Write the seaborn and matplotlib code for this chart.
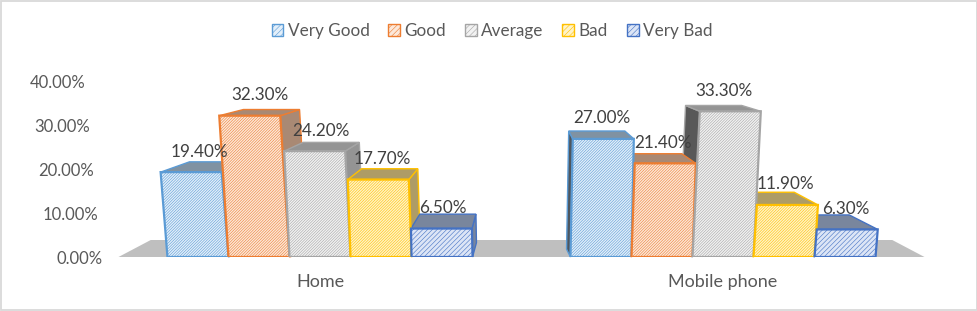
import numpy as np
import pandas as pd
import matplotlib
matplotlib.use("Agg")
import matplotlib.pyplot as plt
from matplotlib.patches import Polygon, Rectangle
from matplotlib.transforms import Affine2D
from matplotlib.colors import to_rgb
import seaborn as sns

# Chart values
places = ["Home", "Mobile phone"]
ratings = ["Very Good", "Good", "Average", "Bad", "Very Bad"]
very_good = [19.4, 27.0]
good = [32.3, 21.4]
average = [24.2, 33.3]
bad = [17.7, 11.9]
very_bad = [6.5, 6.3]
y_ticks = [0, 10, 20, 30, 40]

colors = ["#5B9BD5", "#ED7D31", "#A5A5A5", "#FFC000", "#4472C4"]
pale = ["#E3EFFA", "#FCE8DA", "#F2F2F2", "#FFF3C8", "#DCE5F6"]
hatches = ["/" * 12, "/" * 12, "/" * 12, "/" * 12, "/" * 7]

df = pd.DataFrame({"place": places, "Very Good": very_good, "Good": good,
                   "Average": average, "Bad": bad, "Very Bad": very_bad})
df = df.melt(id_vars="place", var_name="rating", value_name="share")

sns.set_theme(style="white")
plt.rcParams["font.family"] = ["Lato", "DejaVu Sans"]
plt.rcParams["hatch.linewidth"] = 0.4

W, H = 978, 311
fig = plt.figure(figsize=(W / 100, H / 100), dpi=100)
fig.patch.set_facecolor("white")
# axes placed in pixels: 0% at y=257, 40% at y=82
ax = fig.add_axes([118.5 / W, (H - 257) / H, 806 / W, 175 / H])

sns.barplot(data=df, x="place", y="share", hue="rating", order=places,
            hue_order=ratings, palette=colors, width=0.757, gap=0,
            saturation=1, ax=ax, zorder=5)

ax.set_xlim(-0.5, 1.5)
ax.set_ylim(0, 40)
sns.despine(ax=ax, left=True, bottom=True)
ax.set_xlabel("")
ax.set_ylabel("")
ax.set_yticks(y_ticks)
ax.set_yticklabels([f"{t:.2f}%" for t in y_ticks], color="#595959", fontsize=12)
ax.tick_params(axis="y", length=0)
ax.tick_params(axis="x", length=0, pad=12, labelsize=13, labelcolor="#595959")
# the value axis leans away from the plot as it goes up
for t, tick in zip(y_ticks, ax.yaxis.get_major_ticks()):
    tick.set_pad(11.2 + 0.32 * t)


def mix(col, other, t):
    return tuple((1 - t) * a + t * b for a, b in zip(to_rgb(col), to_rgb(other)))


# fake 3D: everything leans to/away from the middle of the chart
centre = 0.5
lean = 0.00109
depth = 0.08

# grey floor
floor_y = 17 / 4.375
ax.add_patch(Polygon([(-0.5, 0), (1.5, 0), (1.5 - depth, floor_y), (-0.5 + depth, floor_y)],
                     closed=True, fc="#BFBFBF", ec="none", zorder=1, clip_on=False))

for cont, col, tint, hatch in zip(ax.containers, colors, pale, hatches):
    for bar in cont:
        x0, x1 = bar.get_x(), bar.get_x() + bar.get_width()
        h = bar.get_height()
        mid = (x0 + x1) / 2
        s = (mid - centre) * lean

        bar.set_facecolor(tint)
        bar.set_edgecolor(col)
        bar.set_linewidth(1.6)
        bar.set_hatch(hatch)
        bar.set_transform(Affine2D.from_values(1, 0, s, 1, 0, 0) + ax.transData)

        # corners of the front top edge and of the back top edge
        tx0, tx1 = x0 + s * h, x1 + s * h
        d_h = (16.5 - 0.32 * h) / 4.375
        bx0 = tx0 + (centre - tx0) * depth
        bx1 = tx1 + (centre - tx1) * depth
        back = h + d_h

        top_col = mix(col, "#8E8E8E", 0.72)
        ax.add_patch(Polygon([(tx0, h), (tx1, h), (bx1, back), (bx0, back)], closed=True,
                             fc=top_col, ec=col, lw=1, zorder=4, clip_on=False))
        # visible side, on the side that faces the middle
        # (left half is lit, right half is in shadow)
        if mid < centre:
            side = [(tx1, h), (bx1, back), (x1 + (centre - x1) * depth, d_h), (x1, 0)]
            side_col = top_col
        else:
            side = [(tx0, h), (bx0, back), (x0 + (centre - x0) * depth, d_h), (x0, 0)]
            side_col = mix(col, "#4A4A4A", 0.85)
        ax.add_patch(Polygon(side, closed=True, fc=side_col, ec=col, lw=1,
                             zorder=3, clip_on=False))

        ax.annotate(f"{h:.2f}%", (mid, h), xytext=(0.8, 14.8),
                    textcoords="offset points", ha="center", va="center",
                    fontsize=12.3, color="#404040", zorder=10, annotation_clip=False)

handles, labels = ax.get_legend_handles_labels()
for hd, col, tint in zip(handles, colors, pale):
    hd.set_facecolor(tint)
    hd.set_edgecolor(col)
    hd.set_hatch("/" * 6)
    hd.set_linewidth(1)
ax.legend(handles, labels, ncol=5, loc="center", bbox_to_anchor=(492 / W, (H - 31) / H),
          bbox_transform=fig.transFigure, frameon=False, fontsize=12.3, labelcolor="#595959",
          handlelength=0.7, handleheight=0.7, handletextpad=0.25, columnspacing=1.1)

# thin frame round the chart area
fig.add_artist(Rectangle((0.5 / W, 1 / H), (W - 1) / W, (H - 1.5) / H, transform=fig.transFigure,
                         fc="none", ec="#D9D9D9", lw=1.3))

fig.savefig("out.png", dpi=100)
